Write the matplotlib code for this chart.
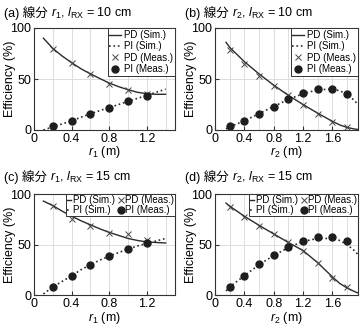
import matplotlib
matplotlib.use("Agg")
import matplotlib.pyplot as plt
from matplotlib.ticker import MultipleLocator

plt.rcParams['font.family'] = ['Liberation Sans', 'Noto Sans CJK JP']
plt.rcParams['mathtext.fontset'] = 'custom'
plt.rcParams['mathtext.rm'] = 'Liberation Sans'
plt.rcParams['mathtext.it'] = 'Liberation Sans:italic'

# ---- data ----
# (a) r1, lRX = 10 cm
a_sim_x = [0.1, 0.2, 0.3, 0.4, 0.5, 0.6, 0.7, 0.8, 0.9, 1.0, 1.1, 1.2, 1.3, 1.4]
a_pd_sim = [90, 80, 72.5, 66, 60, 55, 50.5, 46, 42.5, 39.5, 37, 35.5, 35, 35]
a_pi_sim = [0, 3, 6, 9, 12.5, 16, 19, 22, 25, 28, 31, 34, 37, 40]
a_meas_x = [0.2, 0.4, 0.6, 0.8, 1.0, 1.2]
a_pd_meas = [79, 66, 55, 45, 39, 35]
a_pi_meas = [3.5, 9, 16, 22, 28, 33]

# (b) r2, lRX = 10 cm
b_sim_x = [0.15, 0.2, 0.4, 0.6, 0.8, 1.0, 1.2, 1.4, 1.6, 1.7, 1.8, 1.9, 1.95]
b_pd_sim = [86, 81, 67, 55, 44, 34, 25, 16.5, 8.5, 5, 2.5, 1, 0.5]
b_pi_sim = [1, 3, 9, 16, 23, 30, 35.5, 39.5, 40, 38.5, 35, 29, 25]
b_meas_x = [0.2, 0.4, 0.6, 0.8, 1.0, 1.2, 1.4, 1.6, 1.8]
b_pd_meas = [78, 65, 53, 43, 34, 25, 16, 8, 3]
b_pi_meas = [4, 9, 16, 23, 30, 36, 40, 40, 35]

# (c) r1, lRX = 15 cm
c_sim_x = [0.1, 0.2, 0.3, 0.4, 0.5, 0.6, 0.7, 0.8, 0.9, 1.0, 1.1, 1.2, 1.3, 1.4]
c_pd_sim = [93, 88.5, 83, 78, 73.5, 69.5, 65.5, 62, 59, 56, 54, 52.5, 52, 51.5]
c_pi_sim = [1, 8, 13.5, 19, 25, 30, 34.5, 38.5, 42, 45.5, 48.5, 51, 53.5, 56]
c_meas_x = [0.2, 0.4, 0.6, 0.8, 1.0, 1.2]
c_pd_meas = [88, 75, 68, 61, 60, 54]
c_pi_meas = [8, 19, 30, 39, 46, 51]

# (d) r2, lRX = 15 cm
d_sim_x = [0.15, 0.2, 0.4, 0.6, 0.8, 1.0, 1.2, 1.4, 1.6, 1.7, 1.8, 1.9, 1.95]
d_pd_sim = [91, 88, 78, 69, 60.5, 52, 44, 32, 18, 11.5, 7, 3.5, 2]
d_pi_sim = [4, 8, 19, 30, 39, 47, 53, 56, 56, 54, 50, 44, 40]
d_meas_x = [0.2, 0.4, 0.6, 0.8, 1.0, 1.2, 1.4, 1.6, 1.8]
d_pd_meas = [87, 77, 68, 60, 52, 44, 32, 17, 8]
d_pi_meas = [8, 19, 31, 40, 48, 53, 57, 57, 53]

title_heads = ["(a) 線分 ", "(b) 線分 ", "(c) 線分 ", "(d) 線分 "]
title_tails = [r"$r_1$, $l_{\rm RX}$ = 10 cm", r"$r_2$, $l_{\rm RX}$ = 10 cm",
               r"$r_1$, $l_{\rm RX}$ = 15 cm", r"$r_2$, $l_{\rm RX}$ = 15 cm"]
xlabels = [r"$r_1$ (m)", r"$r_2$ (m)", r"$r_1$ (m)", r"$r_2$ (m)"]
labels = ["PD (Sim.)", "PI (Sim.)", "PD (Meas.)", "PI (Meas.)"]

W, H = 362, 324
fig = plt.figure(figsize=(W / 100, H / 100), dpi=100)

def rect(l, r, t, b):
    return [l / W, 1 - b / H, (r - l) / W, (b - t) / H]

rects = [rect(34, 175, 28, 130), rect(215, 358, 28, 130),
         rect(34, 175, 194, 295), rect(215, 358, 194, 295)]
title_pos = [(4, 13), (185, 13), (4, 177), (185, 177)]
xlims = [(0, 1.5), (0, 1.95), (0, 1.5), (0, 1.95)]
xticks = [[0, 0.4, 0.8, 1.2], [0, 0.4, 0.8, 1.2, 1.6], [0, 0.4, 0.8, 1.2], [0, 0.4, 0.8, 1.2, 1.6]]

data = [
    (a_sim_x, a_pd_sim, a_pi_sim, a_meas_x, a_pd_meas, a_pi_meas),
    (b_sim_x, b_pd_sim, b_pi_sim, b_meas_x, b_pd_meas, b_pi_meas),
    (c_sim_x, c_pd_sim, c_pi_sim, c_meas_x, c_pd_meas, c_pi_meas),
    (d_sim_x, d_pd_sim, d_pi_sim, d_meas_x, d_pd_meas, d_pi_meas),
]

renderer = fig.canvas.get_renderer()
col = '#2b2b2b'
for i in range(4):
    ax = fig.add_axes(rects[i])
    sx, pds, pis, mx, pdm, pim = data[i]
    h1, = ax.plot(sx, pds, '-', color=col, lw=1.0)
    h2, = ax.plot(sx, pis, ':', color=col, lw=1.2)
    h3, = ax.plot(mx, pdm, 'x', color='#444444', ms=4, mew=0.7, ls='none')
    h4, = ax.plot(mx, pim, 'o', color='#1e1e1e', ms=5, ls='none')
    ax.set_xlim(*xlims[i])
    ax.set_ylim(0, 100)
    ax.set_xticks(xticks[i])
    ax.set_xticklabels([('%g' % v) for v in xticks[i]])
    ax.xaxis.set_minor_locator(MultipleLocator(0.2))
    ax.set_yticks([0, 50, 100])
    ax.grid(True, which='both', axis='x', color='#dddddd', lw=0.7)
    ax.grid(True, which='major', axis='y', color='#dddddd', lw=0.7)
    ax.set_axisbelow(True)
    ax.tick_params(direction='in', length=3, labelsize=9, color='#333333', pad=2)
    ax.tick_params(which='minor', length=0)
    for s in ax.spines.values():
        s.set_color('#333333')
        s.set_linewidth(0.8)
    ax.set_ylabel("Efficiency (%)", fontsize=9, va='center')
    ax.yaxis.set_label_coords(-24 / (rects[i][2] * W), 0.5)
    ax.set_xlabel(xlabels[i], fontsize=9, va='center')
    ax.xaxis.set_label_coords(0.5, -22.5 / (rects[i][3] * H))
    # title: CJK part + mathtext part
    tx, ty = title_pos[i]
    t1 = fig.text(tx / W, 1 - ty / H, title_heads[i], fontsize=9, va='center', ha='left')
    bb = t1.get_window_extent(renderer=renderer)
    fig.text(bb.x1 / W, 1 - ty / H, title_tails[i], fontsize=9, va='center', ha='left')
    if i < 2:
        leg = ax.legend([h1, h2, h3, h4], labels, loc='upper right', fontsize=7,
                        handlelength=1.2, handletextpad=0.3, labelspacing=0.15,
                        borderpad=0.2, borderaxespad=0.0, frameon=True, fancybox=False,
                        framealpha=1)
    else:
        leg = ax.legend([h1, h2, h3, h4], labels, loc='upper right', ncol=2, fontsize=7,
                        handlelength=0.5, handletextpad=0.2, labelspacing=0.05,
                        columnspacing=0.3, borderpad=0.1, borderaxespad=0.0,
                        frameon=True, fancybox=False, framealpha=1)
    leg.get_frame().set_edgecolor('#333333')
    leg.get_frame().set_linewidth(0.7)

fig.savefig("out.png", dpi=100)
